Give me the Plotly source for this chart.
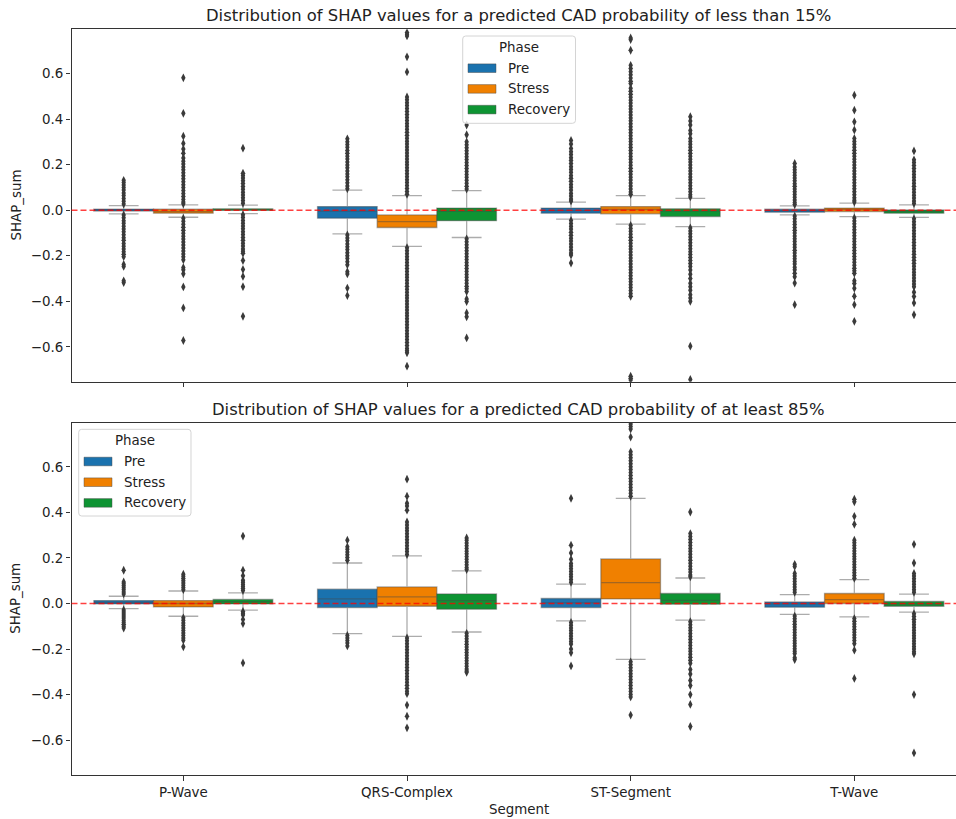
import plotly.graph_objects as go

W, H = 956, 819

SEGMENTS = ["P-Wave", "QRS-Complex", "ST-Segment", "T-Wave"]
PHASES = ["Pre", "Stress", "Recovery"]
PHASE_COLORS = {"Pre": "#1a72ae", "Stress": "#f08000", "Recovery": "#0e9433"}
Y_TICKS = [-0.6, -0.4, -0.2, 0.0, 0.2, 0.4, 0.6]
Y_TICK_TEXT = ["\u22120.6", "\u22120.4", "\u22120.2", "0.0", "0.2", "0.4", "0.6"]

TITLE_LOW = "Distribution of SHAP values for a predicted CAD probability of less than 15%"
TITLE_HIGH = "Distribution of SHAP values for a predicted CAD probability of at least 85%"

# ---- box statistics, predicted CAD probability < 15 % (one value per segment)
low_q1 = {"Pre": [-0.004, -0.035, -0.013, -0.009],
          "Stress": [-0.013, -0.076, -0.016, -0.006],
          "Recovery": [-0.001, -0.046, -0.028, -0.013]}
low_median = {"Pre": [0.001, -0.004, -0.002, -0.002],
              "Stress": [-0.006, -0.050, 0.003, 0.003],
              "Recovery": [0.002, -0.005, -0.004, -0.005]}
low_q3 = {"Pre": [0.005, 0.016, 0.009, 0.004],
          "Stress": [0.004, -0.021, 0.016, 0.009],
          "Recovery": [0.006, 0.009, 0.006, 0.001]}
low_lower = {"Pre": [-0.016, -0.104, -0.039, -0.021],
             "Stress": [-0.031, -0.159, -0.061, -0.028],
             "Recovery": [-0.015, -0.120, -0.072, -0.032]}
low_upper = {"Pre": [0.020, 0.088, 0.035, 0.019],
             "Stress": [0.023, 0.064, 0.064, 0.031],
             "Recovery": [0.022, 0.086, 0.052, 0.023]}

# ---- box statistics, predicted CAD probability >= 85 %
high_q1 = {"Pre": [-0.002, -0.018, -0.018, -0.016],
           "Stress": [-0.015, -0.012, 0.020, 0.000],
           "Recovery": [-0.002, -0.025, -0.003, -0.012]}
high_median = {"Pre": [0.005, 0.020, 0.003, -0.002],
               "Stress": [0.000, 0.029, 0.092, 0.017],
               "Recovery": [0.008, 0.013, 0.014, -0.002]}
high_q3 = {"Pre": [0.013, 0.063, 0.022, 0.007],
           "Stress": [0.013, 0.073, 0.196, 0.044],
           "Recovery": [0.018, 0.042, 0.044, 0.009]}
high_lower = {"Pre": [-0.022, -0.132, -0.076, -0.048],
              "Stress": [-0.056, -0.144, -0.245, -0.059],
              "Recovery": [-0.029, -0.125, -0.073, -0.038]}
high_upper = {"Pre": [0.032, 0.178, 0.085, 0.039],
              "Stress": [0.055, 0.209, 0.462, 0.105],
              "Recovery": [0.047, 0.143, 0.112, 0.041]}

# ---- outliers (per segment), probability < 15 %
low_pre_fliers = [
    [0.131, 0.122, 0.111, 0.099, 0.088, 0.075, 0.064, 0.051, 0.039, 0.027,
     -0.021, -0.033, -0.046, -0.057, -0.071, -0.083, -0.095, -0.108, -0.121, -0.132,
     -0.146, -0.158, -0.17, -0.183, -0.194, -0.204, -0.238, -0.247, -0.31, -0.318],
    [0.313, 0.3, 0.288, 0.276, 0.262, 0.25, 0.237, 0.225, 0.211, 0.198, 0.186, 0.172,
     0.159, 0.147, 0.133, 0.12, 0.106, 0.094,
     -0.109, -0.122, -0.134, -0.148, -0.161, -0.173, -0.187, -0.2, -0.212, -0.226,
     -0.24, -0.27, -0.28, -0.342, -0.375],
    [0.306, 0.29, 0.271, 0.257, 0.244, 0.23, 0.218, 0.205, 0.191, 0.179, 0.166, 0.152,
     0.14, 0.127, 0.113, 0.101, 0.088, 0.074, 0.062, 0.049, 0.04,
     -0.045, -0.058, -0.071, -0.083, -0.097, -0.11, -0.123, -0.135, -0.149, -0.162,
     -0.175, -0.188, -0.197, -0.232],
    [0.205, 0.19, 0.177, 0.165, 0.153, 0.141, 0.129, 0.116, 0.105, 0.093, 0.081, 0.069,
     0.057, 0.045, 0.034, 0.025,
     -0.026, -0.038, -0.051, -0.063, -0.076, -0.088, -0.1, -0.113, -0.126, -0.138,
     -0.151, -0.163, -0.176, -0.188, -0.201, -0.213, -0.225, -0.236, -0.251, -0.262,
     -0.277, -0.292, -0.32, -0.415],
]
low_stress_fliers = [
    [0.581, 0.425, 0.325, 0.293, 0.268, 0.25, 0.229, 0.215, 0.203, 0.19, 0.177, 0.164,
     0.151, 0.138, 0.125, 0.112, 0.099, 0.086, 0.073, 0.06, 0.047, 0.036, 0.028,
     -0.036, -0.049, -0.062, -0.075, -0.088, -0.101, -0.114, -0.127, -0.14, -0.153,
     -0.166, -0.179, -0.192, -0.205, -0.218, -0.252, -0.262, -0.279, -0.337, -0.429, -0.572],
    [0.78, 0.772, 0.765, 0.673, 0.607, 0.497, 0.485, 0.472, 0.459, 0.446, 0.433, 0.42,
     0.407, 0.394, 0.381, 0.368, 0.355, 0.342, 0.329, 0.316, 0.303, 0.29, 0.277, 0.264,
     0.251, 0.238, 0.225, 0.212, 0.199, 0.186, 0.173, 0.16, 0.147, 0.134, 0.121, 0.108,
     0.095, 0.082, 0.07,
     -0.165, -0.178, -0.191, -0.204, -0.217, -0.23, -0.243, -0.256, -0.269, -0.282,
     -0.295, -0.308, -0.321, -0.334, -0.347, -0.36, -0.373, -0.386, -0.399, -0.412,
     -0.425, -0.438, -0.451, -0.464, -0.477, -0.49, -0.503, -0.516, -0.529, -0.542,
     -0.555, -0.568, -0.581, -0.594, -0.607, -0.617, -0.626, -0.685],
    [0.756, 0.749, 0.702, 0.636, 0.622, 0.608, 0.594, 0.58, 0.566, 0.556, 0.535, 0.522,
     0.509, 0.496, 0.483, 0.47, 0.457, 0.444, 0.431, 0.418, 0.405, 0.392, 0.379, 0.366,
     0.353, 0.34, 0.327, 0.314, 0.301, 0.288, 0.275, 0.262, 0.249, 0.236, 0.223, 0.21,
     0.197, 0.184, 0.171, 0.158, 0.145, 0.132, 0.119, 0.106, 0.093, 0.08, 0.07,
     -0.067, -0.08, -0.093, -0.106, -0.119, -0.132, -0.145, -0.158, -0.171, -0.184,
     -0.197, -0.21, -0.223, -0.236, -0.249, -0.262, -0.275, -0.288, -0.301, -0.314,
     -0.327, -0.34, -0.353, -0.366, -0.378, -0.729, -0.738, -0.746],
    [0.505, 0.439, 0.388, 0.352, 0.315, 0.302, 0.289, 0.276, 0.263, 0.25, 0.237, 0.224,
     0.211, 0.198, 0.185, 0.172, 0.159, 0.146, 0.133, 0.12, 0.107, 0.094, 0.081, 0.068,
     0.055, 0.044, 0.036,
     -0.034, -0.047, -0.06, -0.073, -0.086, -0.099, -0.112, -0.125, -0.138, -0.151,
     -0.164, -0.177, -0.19, -0.203, -0.216, -0.229, -0.242, -0.255, -0.266, -0.277,
     -0.31, -0.322, -0.343, -0.378, -0.415, -0.488],
]
low_recovery_fliers = [
    [0.272, 0.162, 0.152, 0.141, 0.129, 0.117, 0.104, 0.092, 0.079, 0.067, 0.054, 0.042, 0.03,
     -0.02, -0.032, -0.045, -0.057, -0.07, -0.082, -0.095, -0.107, -0.12, -0.132, -0.145,
     -0.157, -0.17, -0.18, -0.189, -0.221, -0.26, -0.291, -0.336, -0.466],
    [0.374, 0.331, 0.3, 0.287, 0.274, 0.261, 0.248, 0.235, 0.222, 0.209, 0.196, 0.183,
     0.17, 0.157, 0.144, 0.131, 0.118, 0.105, 0.093,
     -0.126, -0.139, -0.152, -0.165, -0.178, -0.191, -0.204, -0.217, -0.23, -0.243,
     -0.256, -0.269, -0.282, -0.295, -0.308, -0.321, -0.334, -0.345, -0.357, -0.39,
     -0.401, -0.451, -0.468, -0.561],
    [0.41, 0.391, 0.374, 0.35, 0.336, 0.315, 0.302, 0.289, 0.276, 0.263, 0.25, 0.237,
     0.224, 0.211, 0.198, 0.185, 0.172, 0.159, 0.146, 0.133, 0.12, 0.107, 0.094, 0.081,
     0.068, 0.058,
     -0.078, -0.091, -0.104, -0.117, -0.13, -0.143, -0.156, -0.169, -0.182, -0.195,
     -0.208, -0.221, -0.234, -0.247, -0.263, -0.281, -0.3, -0.321, -0.336, -0.351,
     -0.371, -0.386, -0.4, -0.597, -0.743],
    [0.26, 0.221, 0.209, 0.196, 0.183, 0.17, 0.157, 0.144, 0.131, 0.118, 0.105, 0.092,
     0.079, 0.066, 0.053, 0.04, 0.029,
     -0.038, -0.051, -0.064, -0.077, -0.09, -0.103, -0.116, -0.129, -0.142, -0.155,
     -0.168, -0.181, -0.194, -0.207, -0.22, -0.233, -0.246, -0.259, -0.272, -0.285,
     -0.298, -0.311, -0.324, -0.336, -0.36, -0.379, -0.407, -0.459],
]

# ---- outliers (per segment), probability >= 85 %
high_pre_fliers = [
    [0.146, 0.095, 0.087, 0.078, 0.069, 0.06, 0.051, 0.042,
     -0.028, -0.037, -0.046, -0.055, -0.064, -0.073, -0.082, -0.091, -0.1, -0.108],
    [0.278, 0.249, 0.238, 0.226, 0.214, 0.202, 0.19,
     -0.14, -0.151, -0.162, -0.173, -0.186],
    [0.462, 0.256, 0.222, 0.194, 0.176, 0.165, 0.153, 0.141, 0.129, 0.117, 0.105, 0.093,
     -0.083, -0.095, -0.107, -0.119, -0.131, -0.143, -0.155, -0.167, -0.178, -0.2,
     -0.216, -0.274],
    [0.172, 0.163, 0.132, 0.121, 0.109, 0.097, 0.085, 0.073, 0.061, 0.049,
     -0.055, -0.067, -0.079, -0.091, -0.103, -0.115, -0.127, -0.139, -0.151, -0.163,
     -0.175, -0.187, -0.199, -0.21, -0.22, -0.238, -0.246],
]
high_stress_fliers = [
    [0.129, 0.12, 0.11, 0.1, 0.09, 0.08, 0.07, 0.061,
     -0.063, -0.074, -0.085, -0.096, -0.107, -0.118, -0.129, -0.14, -0.151, -0.161, -0.19],
    [0.546, 0.471, 0.44, 0.428, 0.41, 0.358, 0.345, 0.332, 0.319, 0.306, 0.293, 0.28,
     0.267, 0.254, 0.241, 0.228, 0.215,
     -0.151, -0.164, -0.177, -0.19, -0.203, -0.216, -0.229, -0.242, -0.255, -0.268,
     -0.281, -0.294, -0.307, -0.32, -0.333, -0.346, -0.359, -0.372, -0.385, -0.396,
     -0.446, -0.495, -0.546],
    [0.788, 0.777, 0.766, 0.731, 0.666, 0.653, 0.64, 0.627, 0.614, 0.601, 0.588, 0.575,
     0.562, 0.549, 0.536, 0.523, 0.51, 0.497, 0.484, 0.471,
     -0.256, -0.269, -0.282, -0.295, -0.308, -0.321, -0.334, -0.347, -0.36, -0.373,
     -0.386, -0.399, -0.41, -0.49],
    [0.458, 0.447, 0.383, 0.348, 0.278, 0.267, 0.255, 0.243, 0.231, 0.219, 0.207, 0.195,
     0.183, 0.171, 0.159, 0.147, 0.135, 0.123, 0.111,
     -0.066, -0.078, -0.09, -0.102, -0.114, -0.126, -0.138, -0.15, -0.162, -0.176,
     -0.205, -0.329],
]
high_recovery_fliers = [
    [0.296, 0.146, 0.122, 0.102, 0.093, 0.084, 0.075, 0.066, 0.057,
     -0.035, -0.043, -0.05, -0.07, -0.088, -0.261],
    [0.288, 0.278, 0.266, 0.254, 0.242, 0.23, 0.218, 0.206, 0.194, 0.182, 0.17, 0.158, 0.149,
     -0.131, -0.143, -0.155, -0.167, -0.179, -0.191, -0.203, -0.215, -0.227, -0.239,
     -0.251, -0.263, -0.275, -0.287, -0.296, -0.302],
    [0.402, 0.307, 0.294, 0.281, 0.268, 0.255, 0.242, 0.229, 0.216, 0.203, 0.19, 0.177,
     0.164, 0.151, 0.138, 0.125, 0.117,
     -0.08, -0.093, -0.106, -0.119, -0.132, -0.145, -0.158, -0.171, -0.184, -0.197,
     -0.21, -0.223, -0.236, -0.249, -0.262, -0.29, -0.31, -0.338, -0.36, -0.4, -0.443, -0.54],
    [0.26, 0.178, 0.132, 0.121, 0.109, 0.097, 0.085, 0.073, 0.061, 0.049,
     -0.045, -0.057, -0.069, -0.081, -0.093, -0.105, -0.117, -0.129, -0.141, -0.153,
     -0.165, -0.177, -0.189, -0.2, -0.212, -0.221, -0.4, -0.656],
]

# ---- geometry (pixels) ----------------------------------------------------
AX_LEFT = 71.5
CAT_STEP = 223.67
PANELS = [  # (top px, bottom px)
    (29.3, 381.7),
    (422.7, 775.0),
]
Y_RANGE = [-0.753, 0.794]
X_RANGE = [-0.5, -0.5 + (W - AX_LEFT) / CAT_STEP]
BOX_W = 0.8 / len(PHASES)
FONT = "DejaVu Sans"
TEXT_COLOR = "#222222"
SPINE = "#333333"
LINE_GRAY = "rgba(70,70,70,0.45)"
BASE_SIZE = 13.4
TITLE_SIZE = 16.4


def px_x(px):
    return px / W


def px_y(py):
    return 1 - py / H


fig = go.Figure()

panel_data = [
    (low_q1, low_median, low_q3, low_lower, low_upper,
     {"Pre": low_pre_fliers, "Stress": low_stress_fliers, "Recovery": low_recovery_fliers}),
    (high_q1, high_median, high_q3, high_lower, high_upper,
     {"Pre": high_pre_fliers, "Stress": high_stress_fliers, "Recovery": high_recovery_fliers}),
]

for p, (q1, med, q3, lo, hi, fliers) in enumerate(panel_data):
    xa = "x" if p == 0 else "x2"
    ya = "y" if p == 0 else "y2"
    for k, phase in enumerate(PHASES):
        offset = (k - 1) * BOX_W
        xs = [i + offset for i in range(len(SEGMENTS))]
        fig.add_trace(go.Box(
            x=xs, q1=q1[phase], median=med[phase], q3=q3[phase],
            lowerfence=lo[phase], upperfence=hi[phase],
            width=BOX_W, whiskerwidth=0.5, boxpoints=False,
            fillcolor=PHASE_COLORS[phase],
            line=dict(color=LINE_GRAY, width=1.3),
            name=phase, showlegend=False, hoverinfo="skip",
            xaxis=xa, yaxis=ya,
        ))
        fx, fy = [], []
        for i, vals in enumerate(fliers[phase]):
            fx += [i + offset] * len(vals)
            fy += vals
        fig.add_trace(go.Scatter(
            x=fx, y=fy, mode="markers",
            marker=dict(symbol="diamond-tall", size=6.3, color="#3a3a3a",
                        line=dict(width=0)),
            showlegend=False, hoverinfo="skip", xaxis=xa, yaxis=ya,
        ))

axis_common = dict(
    showline=True, linecolor=SPINE, linewidth=1.1,
    ticks="outside", ticklen=4.5, tickwidth=1.1, tickcolor=SPINE,
    showgrid=False, zeroline=False,
    tickfont=dict(family=FONT, size=BASE_SIZE, color=TEXT_COLOR),
)

layout = dict(
    width=W, height=H, margin=dict(l=0, r=0, t=0, b=0),
    paper_bgcolor="white", plot_bgcolor="white",
    boxmode="overlay", showlegend=False,
    font=dict(family=FONT, color=TEXT_COLOR),
)
for p, (top, bot) in enumerate(PANELS):
    sx = "" if p == 0 else "2"
    layout["xaxis" + sx] = dict(
        axis_common, domain=[px_x(AX_LEFT), 1], range=X_RANGE,
        tickmode="array", tickvals=list(range(len(SEGMENTS))), ticktext=SEGMENTS,
        showticklabels=(p == 1), mirror=True, anchor="y" + sx,
    )
    layout["yaxis" + sx] = dict(
        axis_common, domain=[px_y(bot), px_y(top)], range=Y_RANGE,
        tickmode="array", tickvals=Y_TICKS, ticktext=Y_TICK_TEXT,
        mirror=False, anchor="x" + sx,
    )
fig.update_layout(**layout)

shapes = []
annotations = []

# dashed zero reference line in both panels
for p in range(2):
    shapes.append(dict(
        type="line", xref="paper", yref="y" if p == 0 else "y2",
        x0=px_x(AX_LEFT), x1=1, y0=0, y1=0, layer="above",
        line=dict(color="rgba(255,0,0,0.75)", width=1.5, dash="6px,3px"),
    ))

# titles and axis labels
title_cx = AX_LEFT + 2 * CAT_STEP
for text, cy in [(TITLE_LOW, 15.7), (TITLE_HIGH, 409.0)]:
    annotations.append(dict(text=text, x=px_x(title_cx), y=px_y(cy), xref="paper",
                            yref="paper", showarrow=False, xanchor="center",
                            yanchor="middle",
                            font=dict(family=FONT, size=TITLE_SIZE, color=TEXT_COLOR)))
for top, bot in PANELS:
    annotations.append(dict(text="SHAP_sum", x=px_x(16), y=px_y((top + bot) / 2),
                            xref="paper", yref="paper", showarrow=False, textangle=-90,
                            xanchor="center", yanchor="middle",
                            font=dict(family=FONT, size=BASE_SIZE, color=TEXT_COLOR)))
annotations.append(dict(text="Segment", x=px_x(title_cx), y=px_y(809), xref="paper",
                        yref="paper", showarrow=False, xanchor="center", yanchor="middle",
                        font=dict(family=FONT, size=BASE_SIZE, color=TEXT_COLOR)))


def rounded_rect(x0, y0, x1, y1, r):
    def P(x, y):
        return f"{px_x(x):.5f},{px_y(y):.5f}"
    pts = [
        "M" + P(x0 + r, y0),
        "L" + P(x1 - r, y0),
        "Q" + P(x1, y0) + " " + P(x1, y0 + r),
        "L" + P(x1, y1 - r),
        "Q" + P(x1, y1) + " " + P(x1 - r, y1),
        "L" + P(x0 + r, y1),
        "Q" + P(x0, y1) + " " + P(x0, y1 - r),
        "L" + P(x0, y0 + r),
        "Q" + P(x0, y0) + " " + P(x0 + r, y0),
    ]
    return " ".join(pts) + " Z"


# legends: (frame left, frame top, frame right, frame bottom)
for (lx0, ly0, lx1, ly1) in [(462.7, 36.0, 575.5, 123.3), (78.7, 429.3, 191.0, 516.0)]:
    shapes.append(dict(type="path", xref="paper", yref="paper",
                       path=rounded_rect(lx0, ly0, lx1, ly1, 3), layer="above",
                       fillcolor="rgba(255,255,255,0.8)",
                       line=dict(color="#d4d4d4", width=1)))
    annotations.append(dict(text="Phase", x=px_x((lx0 + lx1) / 2), y=px_y(ly0 + 11.5),
                            xref="paper", yref="paper", showarrow=False,
                            xanchor="center", yanchor="middle",
                            font=dict(family=FONT, size=BASE_SIZE, color=TEXT_COLOR)))
    for k, phase in enumerate(PHASES):
        cy = ly0 + 32.2 + k * 20.7
        shapes.append(dict(type="rect", xref="paper", yref="paper", layer="above",
                           x0=px_x(lx0 + 5.3), x1=px_x(lx0 + 33.3),
                           y0=px_y(cy + 4.3), y1=px_y(cy - 4.3),
                           fillcolor=PHASE_COLORS[phase],
                           line=dict(color=LINE_GRAY, width=1)))
        annotations.append(dict(text=phase, x=px_x(lx0 + 43.5), y=px_y(cy),
                                xref="paper", yref="paper", showarrow=False,
                                xanchor="left", yanchor="middle",
                                font=dict(family=FONT, size=BASE_SIZE, color=TEXT_COLOR)))

fig.update_layout(shapes=shapes, annotations=annotations)
fig.write_html("out.html")
